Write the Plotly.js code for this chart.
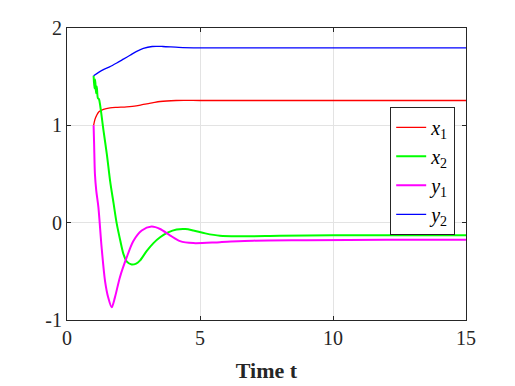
<!DOCTYPE html>
<html><head><meta charset="utf-8">
<script src="https://cdn.plot.ly/plotly-3.0.1.min.js"></script>
<style>html,body{margin:0;padding:0;background:#fff}#chart{width:515px;height:386px}</style>
</head><body><div id="chart"></div>
<script>
// Data
const tX1 = [1.0, 1.05, 1.11, 1.2, 1.37, 1.62, 1.9, 2.24, 2.6, 2.87, 3.2, 3.5, 4.1, 5, 6, 8, 10, 12, 15];
const x1  = [1.0, 1.06, 1.10, 1.14, 1.165, 1.18, 1.185, 1.19, 1.2, 1.215, 1.23, 1.245, 1.255, 1.255, 1.255, 1.255, 1.255, 1.255, 1.255];

const tX2 = [1.0, 1.03, 1.06, 1.09, 1.12, 1.16, 1.2, 1.25, 1.37, 1.5, 1.62, 1.75, 1.87, 2.0, 2.12, 2.25, 2.43, 2.6, 2.74, 3.0, 3.25, 3.5, 3.8, 4.12, 4.45, 4.75, 5.2, 5.75, 6.5, 8, 10, 12, 15];
const x2  = [1.51, 1.38, 1.47, 1.33, 1.40, 1.28, 1.27, 1.2, 0.95, 0.70, 0.43, 0.2, -0.01, -0.18, -0.32, -0.40, -0.43, -0.42, -0.39, -0.29, -0.21, -0.15, -0.10, -0.07, -0.065, -0.08, -0.11, -0.135, -0.14, -0.135, -0.13, -0.13, -0.13];

const tY1 = [1.0, 1.02, 1.05, 1.1, 1.18, 1.3, 1.43, 1.55, 1.68, 1.8, 1.99, 2.24, 2.49, 2.81, 3.18, 3.5, 3.87, 4.25, 4.75, 5.75, 7, 9, 12, 15];
const y1  = [1.0, 0.8, 0.50, 0.33, 0.16, -0.25, -0.60, -0.77, -0.87, -0.77, -0.56, -0.36, -0.19, -0.08, -0.04, -0.065, -0.13, -0.19, -0.21, -0.20, -0.185, -0.18, -0.175, -0.175];

const tY2 = [1.0, 1.35, 1.6, 1.87, 2.12, 2.37, 2.62, 2.87, 3.2, 3.6, 4.2, 5, 6, 8, 10, 12, 15];
const y2  = [1.51, 1.57, 1.60, 1.64, 1.68, 1.72, 1.76, 1.79, 1.81, 1.81, 1.80, 1.795, 1.795, 1.795, 1.795, 1.795, 1.795];

const names = ['<i>x</i><sub>1</sub>', '<i>x</i><sub>2</sub>', '<i>y</i><sub>1</sub>', '<i>y</i><sub>2</sub>'];
const colors = ['#ff0000', '#00ff00', '#ff00ff', '#0000ff'];
const widths = [1.3, 2, 2, 1.3];

const traces = [
  {x: tX1, y: x1}, {x: tX2, y: x2}, {x: tY1, y: y1}, {x: tY2, y: y2}
].map((d, i) => ({
  x: d.x, y: d.y, type: 'scatter', mode: 'lines', name: names[i],
  line: {color: colors[i], width: widths[i], shape: 'spline', smoothing: 0.8}
}));

const serif = 'Liberation Serif, Times New Roman, serif';
const axisCommon = {
  showline: true, mirror: 'ticks', linecolor: '#262626', linewidth: 1,
  ticks: 'inside', ticklen: 4, tickcolor: '#262626',
  showgrid: true, gridcolor: '#e3e3e3', gridwidth: 1, zeroline: false,
  tickfont: {family: serif, size: 20, color: '#262626'}
};

const layout = {
  width: 515, height: 386,
  margin: {l: 67, r: 49, t: 28, b: 66},
  paper_bgcolor: '#fff', plot_bgcolor: '#fff',
  showlegend: true,
  xaxis: Object.assign({}, axisCommon, {
    range: [0, 15], tickvals: [0, 5, 10, 15],
    title: {text: '<b>Time t</b>', font: {family: serif, size: 22, color: '#262626'}, standoff: 14}
  }),
  yaxis: Object.assign({}, axisCommon, {
    range: [-1, 2], tickvals: [-1, 0, 1, 2], ticktext: ['-1', '0', '1', '2']
  }),
  legend: {
    x: 0.81, y: 0.73, xanchor: 'left', yanchor: 'top',
    bgcolor: '#fff', bordercolor: '#262626', borderwidth: 1,
    font: {family: serif, size: 20, color: '#000'}
  }
};

Plotly.newPlot('chart', traces, layout, {displayModeBar: false, staticPlot: true});
</script>
</body></html>
